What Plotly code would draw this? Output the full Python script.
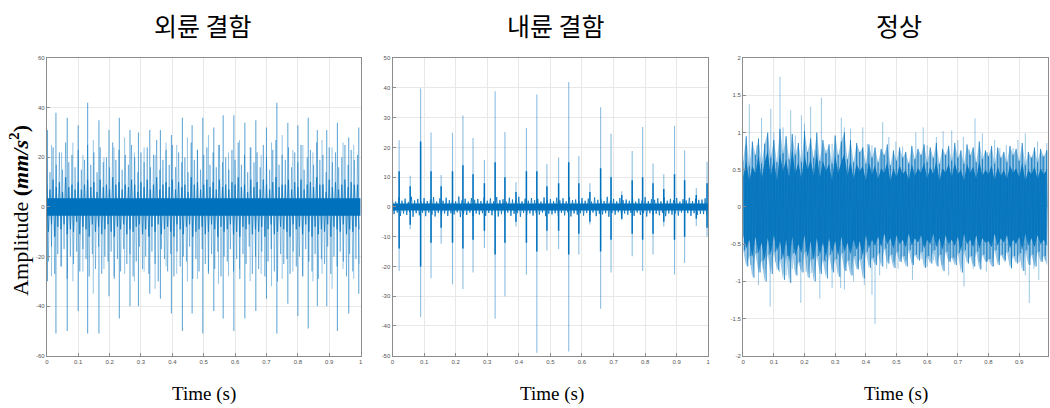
import plotly.graph_objects as go

BLUE = "#0072BD"

# ---------------- data ----------------
# sample grid for the envelope readings (0.01 s steps)
t_grid = [i / 100 for i in range(100)]

# Panel 1 : outer race fault (외륜 결함)
t1_imp = [0.002, 0.029, 0.065, 0.100, 0.130, 0.166, 0.198, 0.231, 0.265, 0.292, 0.328,
          0.362, 0.397, 0.432, 0.463, 0.497, 0.532, 0.562, 0.596, 0.631, 0.666, 0.700,
          0.733, 0.768, 0.800, 0.833, 0.862, 0.892, 0.926, 0.962, 0.994]
up1_imp = [31, 38, 36, 33, 42, 35, 31, 36, 31, 30, 31, 31, 29, 36, 33, 36, 32, 37, 37, 34,
           35, 32, 42, 34, 33, 36, 31, 31, 34, 28, 32]
dn1_imp = [-30, -51, -50, -42, -51, -51, -36, -45, -40, -40, -35, -37, -43, -50, -43, -51,
           -42, -45, -50, -45, -42, -37, -51, -39, -44, -49, -40, -40, -50, -43, -35]
t1_sec = [0.015, 0.047, 0.083, 0.115, 0.148, 0.182, 0.214, 0.248, 0.279, 0.310, 0.345,
          0.380, 0.414, 0.448, 0.480, 0.515, 0.547, 0.579, 0.614, 0.648, 0.683, 0.716,
          0.750, 0.784, 0.816, 0.848, 0.877, 0.909, 0.944, 0.978]
up1_sec = [25, 22, 26, 21, 27, 20, 24, 28, 22, 24, 21, 26, 25, 28, 23, 29, 25, 22, 27, 24,
           21, 26, 29, 23, 25, 22, 27, 24, 26, 25]
dn1_sec = [-28, -24, -30, -26, -35, -25, -28, -27, -30, -26, -33, -24, -27, -30, -29, -26,
           -31, -28, -25, -30, -27, -32, -29, -26, -28, -30, -27, -33, -25, -29]
mid1_hi = [20, 14, 24, 17, 22, 15, 26, 18, 21, 16, 23, 15, 19, 25, 17, 22, 14, 24, 18, 20,
           16, 26, 19, 23, 15, 21, 17, 25, 20, 14, 22, 18, 24, 16, 21, 27, 15, 19, 23, 17,
           25, 16, 22, 18, 20, 14, 26, 19, 23, 15, 21, 24, 17, 22, 16, 25, 18, 20, 15, 23,
           19, 26, 17, 21, 14, 24, 18, 22, 16, 25, 20, 15, 23, 27, 17, 21, 19, 24, 16, 22,
           18, 25, 15, 20, 23, 17, 26, 19, 21, 14, 24, 18, 22, 16, 20, 25, 17, 23, 19, 21]
mid1_lo = [-22, -16, -27, -19, -24, -17, -29, -20, -23, -18, -26, -17, -21, -28, -19, -25,
           -16, -27, -20, -22, -18, -29, -21, -26, -17, -23, -19, -28, -22, -16, -25, -20,
           -27, -18, -23, -30, -17, -21, -26, -19, -28, -18, -24, -20, -22, -16, -29, -21,
           -26, -17, -23, -27, -19, -25, -18, -28, -20, -22, -17, -26, -21, -29, -19, -23,
           -16, -27, -20, -25, -18, -28, -22, -17, -26, -30, -19, -23, -21, -27, -18, -24,
           -20, -28, -17, -22, -26, -19, -29, -21, -23, -16, -27, -20, -24, -18, -22, -28,
           -19, -26, -21, -23]
core1_hi = [9, 7, 11, 8, 10, 6, 12, 8, 9, 7, 10, 7, 9, 11, 8, 10, 6, 11, 8, 9,
            7, 12, 9, 10, 7, 9, 8, 11, 9, 6, 10, 8, 11, 7, 9, 12, 7, 9, 10, 8,
            11, 7, 10, 8, 9, 6, 12, 9, 10, 7, 9, 11, 8, 10, 7, 11, 8, 9, 7, 10,
            9, 12, 8, 9, 6, 11, 8, 10, 7, 11, 9, 7, 10, 12, 8, 9, 9, 11, 7, 10,
            8, 11, 7, 9, 10, 8, 12, 9, 9, 6, 11, 8, 10, 7, 9, 11, 8, 10, 9, 9]
core1_lo = [-10, -7, -12, -8, -9, -7, -11, -9, -10, -6, -11, -8, -9, -12, -7, -10, -8, -11,
            -9, -7, -10, -12, -8, -9, -7, -11, -9, -10, -8, -7, -11, -9, -12, -8, -10, -7,
            -11, -9, -8, -10, -12, -7, -9, -11, -8, -7, -12, -10, -9, -8, -11, -10, -7, -9,
            -12, -8, -10, -9, -7, -11, -10, -12, -8, -9, -7, -11, -9, -10, -8, -12, -9, -7,
            -11, -10, -8, -9, -10, -12, -7, -9, -8, -11, -7, -10, -12, -8, -11, -9, -10, -7,
            -12, -8, -9, -10, -7, -11, -9, -10, -8, -9]
core1_band = 3.5

# Panel 2 : inner race fault (내륜 결함)
t2_imp = [0.021, 0.056, 0.089, 0.122, 0.154, 0.190, 0.223, 0.255, 0.291, 0.325, 0.356,
          0.391, 0.424, 0.457, 0.489, 0.526, 0.558, 0.590, 0.625, 0.659, 0.692, 0.726,
          0.759, 0.792, 0.825, 0.859, 0.893, 0.925, 0.962, 0.996]
up2_imp = [22.4, 10.5, 39.8, 25, 10.7, 24.9, 30.7, 23.2, 15.8, 38.9, 25.2, 8.3, 26.5, 37.8,
           14.4, 16.6, 42, 17.1, 8, 33.5, 24.6, 5.3, 18.8, 26.9, 14.6, 11, 27.3, 19, 6.4, 15.2]
dn2_imp = [-21.5, -7.5, -37, -24, -12.4, -26, -27.6, -22, -13.8, -37.6, -30, -6.6, -22.8, -49,
           -14.6, -14.1, -48.6, -16, -5.9, -34.2, -22, -4.4, -16.6, -21.5, -16, -6.6, -22.7,
           -18.8, -6.4, -10]
up2_ring = [12, 7, 22, 12, 7, 12, 14, 11, 8, 15, 10, 5, 12, 12, 7, 8, 15, 8, 5, 13, 10, 4, 9,
            10, 8, 6, 11, 9, 4, 8]
dn2_ring = [-14, -6, -20, -12, -7, -12, -14, -11, -8, -16, -12, -5, -12, -15, -8, -8, -16, -9,
            -5, -15, -11, -4, -9, -11, -9, -5, -11, -10, -4, -7]
noise2_hi = [2.6, 1.8, 3.2, 2.1, 2.8, 1.7, 3.4, 2.2, 2.7, 1.9, 3.0, 2.0, 2.5, 3.3, 1.8, 2.9,
             2.1, 3.1, 2.3, 2.6, 1.9, 3.5, 2.2, 2.8, 1.8, 3.0, 2.4, 2.7, 2.0, 3.2, 2.1, 2.9,
             1.9, 3.3, 2.3, 2.6, 1.8, 3.1, 2.5, 2.2, 3.4, 1.9, 2.8, 2.1, 3.0, 2.3, 2.7, 1.8,
             3.2, 2.4, 2.6, 2.0, 3.1, 2.2, 2.9, 1.9, 3.3, 2.3, 2.5, 2.0, 3.0, 2.1, 2.8, 1.8,
             3.2, 2.4, 2.6, 2.0, 3.4, 2.2, 2.7, 1.9, 3.0, 2.3, 2.5, 2.1, 3.1, 1.8, 2.8, 2.2,
             3.3, 2.0, 2.6, 2.4, 2.9, 1.9, 3.2, 2.1, 2.7, 2.3, 3.0, 1.8, 2.6, 2.2, 3.1, 2.0,
             2.8, 2.4, 2.5, 2.9]
noise2_lo = [-2.4, -1.9, -3.0, -2.2, -2.7, -1.8, -3.3, -2.1, -2.8, -2.0, -3.1, -1.9, -2.6,
             -3.2, -2.0, -2.8, -2.2, -3.0, -2.1, -2.5, -1.8, -3.4, -2.3, -2.7, -1.9, -3.1,
             -2.2, -2.6, -2.1, -3.0, -2.0, -2.8, -1.8, -3.2, -2.4, -2.5, -1.9, -3.0, -2.3,
             -2.1, -3.3, -2.0, -2.7, -2.2, -2.9, -2.1, -2.6, -1.9, -3.1, -2.3, -2.5, -2.1,
             -3.0, -2.0, -2.8, -1.8, -3.2, -2.2, -2.6, -2.1, -2.9, -2.0, -2.7, -1.9, -3.1,
             -2.3, -2.5, -2.1, -3.3, -2.0, -2.6, -1.8, -2.9, -2.2, -2.6, -2.0, -3.0, -1.9,
             -2.7, -2.1, -3.2, -2.1, -2.5, -2.3, -2.8, -2.0, -3.1, -2.2, -2.6, -2.2, -2.9,
             -1.9, -2.5, -2.1, -3.0, -2.1, -2.7, -2.3, -2.4, -2.8]
core2_band = 1.2

# Panel 3 : normal (정상)
t3_hi = [0.008, 0.02, 0.045, 0.06, 0.09, 0.10, 0.12, 0.13, 0.155, 0.17, 0.19, 0.20, 0.22,
         0.235, 0.255, 0.27, 0.29, 0.32, 0.33, 0.35, 0.37, 0.39, 0.405, 0.42, 0.455, 0.475,
         0.498, 0.52, 0.54, 0.563, 0.587, 0.60, 0.63, 0.652, 0.68, 0.70, 0.718, 0.738, 0.756,
         0.78, 0.796, 0.82, 0.837, 0.858, 0.88, 0.896, 0.92, 0.943, 0.96, 0.976, 0.99]
v3_hi = [0.83, 1.38, 0.83, 1.2, 1.32, 1.0, 1.75, 1.07, 1.3, 0.96, 1.23, 1.12, 1.35, 0.77,
         1.47, 0.77, 0.85, 1.2, 1.07, 1.05, 0.81, 1.07, 0.85, 0.83, 1.14, 0.94, 0.88, 0.81,
         0.6, 1.0, 1.07, 0.83, 0.94, 1.02, 1.03, 0.9, 0.94, 0.77, 1.19, 0.99, 0.74, 0.9, 0.79,
         0.83, 0.79, 0.9, 0.99, 0.68, 0.88, 0.68, 0.86]
t3_lo = [0.004, 0.025, 0.05, 0.066, 0.088, 0.105, 0.118, 0.14, 0.16, 0.188, 0.205, 0.222,
         0.25, 0.268, 0.29, 0.318, 0.33, 0.36, 0.375, 0.395, 0.42, 0.43, 0.445, 0.468, 0.49,
         0.505, 0.53, 0.552, 0.58, 0.60, 0.62, 0.648, 0.67, 0.69, 0.72, 0.75, 0.77, 0.793,
         0.815, 0.835, 0.853, 0.875, 0.90, 0.92, 0.933, 0.948, 0.964, 0.985]
v3_lo = [-0.6, -0.78, -1.05, -0.83, -1.34, -0.74, -0.87, -0.92, -0.83, -1.29, -0.87, -0.89,
         -1.23, -0.74, -1.09, -1.09, -1.11, -1.0, -0.83, -1.05, -1.18, -1.57, -0.92, -0.83,
         -0.74, -0.83, -0.72, -0.98, -0.7, -0.8, -0.72, -0.78, -0.92, -0.7, -1.07, -0.83,
         -0.74, -0.87, -0.8, -0.72, -0.74, -0.83, -0.74, -0.92, -1.29, -0.83, -0.98, -0.72]
mid3_hi = [0.62, 0.95, 0.55, 0.88, 0.70, 0.92, 0.58, 0.85, 1.00, 0.66, 0.90, 0.60, 1.05, 0.72,
           0.95, 0.64, 0.98, 0.70, 0.86, 0.60, 1.02, 0.74, 0.92, 0.66, 1.00, 0.62, 0.90, 0.72,
           0.84, 0.58, 0.96, 0.70, 0.88, 1.00, 0.64, 0.90, 0.60, 0.86, 0.74, 0.80, 0.58, 0.84,
           0.66, 0.80, 0.60, 0.78, 0.70, 0.84, 0.56, 0.76, 0.62, 0.80, 0.66, 0.74, 0.58, 0.82,
           0.64, 0.78, 0.70, 0.84, 0.60, 0.80, 0.66, 0.86, 0.58, 0.78, 0.70, 0.82, 0.62, 0.86,
           0.66, 0.76, 0.58, 0.84, 0.70, 0.80, 0.60, 0.88, 0.64, 0.76, 0.68, 0.82, 0.58, 0.80,
           0.66, 0.74, 0.60, 0.82, 0.70, 0.78, 0.62, 0.86, 0.56, 0.74, 0.66, 0.80, 0.60, 0.78,
           0.68, 0.76]
mid3_lo = [-0.58, -0.80, -0.66, -0.95, -0.62, -0.88, -0.72, -1.00, -0.64, -0.90, -0.60,
           -0.85, -0.70, -0.98, -0.66, -1.02, -0.62, -0.92, -0.74, -0.88, -0.60, -0.95,
           -0.70, -1.00, -0.66, -0.90, -0.72, -0.96, -0.64, -0.88, -0.70, -0.94, -0.62,
           -0.86, -0.72, -0.92, -0.66, -0.84, -0.70, -0.96, -0.60, -0.82, -0.68, -0.78,
           -0.62, -0.80, -0.56, -0.76, -0.64, -0.82, -0.60, -0.74, -0.66, -0.80, -0.58,
           -0.78, -0.64, -0.72, -0.60, -0.82, -0.66, -0.76, -0.58, -0.80, -0.64, -0.86,
           -0.60, -0.74, -0.68, -0.78, -0.62, -0.88, -0.58, -0.76, -0.66, -0.80, -0.60,
           -0.84, -0.64, -0.74, -0.70, -0.80, -0.58, -0.78, -0.64, -0.72, -0.60, -0.82,
           -0.66, -0.76, -0.62, -0.86, -0.58, -0.78, -0.64, -0.80, -0.60, -0.74, -0.66,
           -0.78]
core3_hi = [0.40, 0.62, 0.35, 0.55, 0.45, 0.70, 0.38, 0.60, 0.75, 0.42, 0.66, 0.36, 0.72,
            0.48, 0.64, 0.40, 0.78, 0.45, 0.60, 0.38, 0.70, 0.50, 0.64, 0.42, 0.74, 0.40,
            0.62, 0.48, 0.58, 0.36, 0.70, 0.46, 0.60, 0.72, 0.42, 0.62, 0.38, 0.58, 0.48,
            0.55, 0.36, 0.60, 0.44, 0.56, 0.38, 0.52, 0.46, 0.60, 0.35, 0.52, 0.40, 0.56,
            0.44, 0.50, 0.36, 0.58, 0.42, 0.52, 0.46, 0.60, 0.38, 0.54, 0.44, 0.62, 0.36,
            0.52, 0.46, 0.58, 0.40, 0.60, 0.44, 0.50, 0.36, 0.58, 0.46, 0.54, 0.38, 0.62,
            0.42, 0.50, 0.44, 0.56, 0.36, 0.54, 0.42, 0.50, 0.38, 0.56, 0.46, 0.52, 0.40,
            0.60, 0.35, 0.50, 0.44, 0.54, 0.38, 0.52, 0.44, 0.50]
core3_lo = [-0.38, -0.56, -0.44, -0.68, -0.40, -0.62, -0.48, -0.72, -0.42, -0.64, -0.38,
            -0.60, -0.46, -0.70, -0.44, -0.74, -0.40, -0.66, -0.50, -0.62, -0.38, -0.68,
            -0.46, -0.72, -0.42, -0.64, -0.48, -0.68, -0.42, -0.62, -0.46, -0.66, -0.40,
            -0.60, -0.48, -0.64, -0.44, -0.58, -0.46, -0.66, -0.38, -0.56, -0.44, -0.52,
            -0.40, -0.54, -0.36, -0.50, -0.42, -0.56, -0.38, -0.50, -0.44, -0.54, -0.36,
            -0.52, -0.42, -0.48, -0.38, -0.56, -0.44, -0.50, -0.36, -0.54, -0.42, -0.58,
            -0.38, -0.50, -0.44, -0.52, -0.40, -0.60, -0.36, -0.50, -0.44, -0.54, -0.38,
            -0.56, -0.42, -0.48, -0.46, -0.54, -0.36, -0.52, -0.42, -0.48, -0.38, -0.56,
            -0.44, -0.50, -0.40, -0.58, -0.36, -0.52, -0.42, -0.54, -0.38, -0.50, -0.44,
            -0.52]

titles = ["외륜 결함", "내륜 결함", "정상"]
y_ticks = [[-60, -40, -20, 0, 20, 40, 60],
           [-50, -40, -30, -20, -10, 0, 10, 20, 30, 40, 50],
           [-2, -1.5, -1, -0.5, 0, 0.5, 1, 1.5, 2]]
x_ticks = [[0, 0.1, 0.2, 0.3, 0.4, 0.5, 0.6, 0.7, 0.8, 0.9, 1],
           [0, 0.1, 0.2, 0.3, 0.4, 0.5, 0.6, 0.7, 0.8, 0.9, 1],
           [0, 0.1, 0.2, 0.3, 0.4, 0.5, 0.6, 0.7, 0.8, 0.9]]


# ---------------- helpers ----------------
def rgba(a):
    return "rgba(0,114,189,%s)" % a


def segs(ts, lo, hi):
    xs, ys = [], []
    for t, a, b in zip(ts, lo, hi):
        xs += [t, t, None]
        ys += [a, b, None]
    return xs, ys


def zigzag(ts, hi, lo, half_step):
    xs, ys = [], []
    for t, a, b in zip(ts, hi, lo):
        xs += [t, t + half_step]
        ys += [a, b]
    return xs, ys


def lines(xs, ys, color, w, xa, ya):
    return go.Scatter(x=xs, y=ys, mode="lines", line=dict(color=color, width=w),
                      connectgaps=False, hoverinfo="skip", showlegend=False,
                      xaxis=xa, yaxis=ya)


def jag_band(ts, hi, lo, color, xa, ya):
    xs = list(ts) + list(ts)[::-1]
    ys = list(hi) + list(lo)[::-1]
    return go.Scatter(x=xs, y=ys, fill="toself", fillcolor=color, mode="lines",
                      line=dict(width=0), hoverinfo="skip", showlegend=False,
                      xaxis=xa, yaxis=ya)


def flat_band(x0, x1, half, color, xa, ya):
    return go.Scatter(x=[x0, x1, x1, x0], y=[half, half, -half, -half], fill="toself",
                      fillcolor=color, mode="lines", line=dict(width=0), hoverinfo="skip",
                      showlegend=False, xaxis=xa, yaxis=ya)


fig = go.Figure()

# Panel 1
xs, ys = zigzag(t_grid, mid1_hi, mid1_lo, 0.005)
fig.add_trace(lines(xs, ys, rgba(0.38), 1, "x", "y"))
xs, ys = segs(t1_sec, dn1_sec, up1_sec)
fig.add_trace(lines(xs, ys, rgba(0.42), 1, "x", "y"))
xs, ys = segs(t1_imp, dn1_imp, up1_imp)
fig.add_trace(lines(xs, ys, rgba(0.6), 1.1, "x", "y"))
xs, ys = zigzag(t_grid, core1_hi, core1_lo, 0.005)
fig.add_trace(lines(xs, ys, rgba(0.7), 1, "x", "y"))
fig.add_trace(flat_band(0, 1, core1_band, BLUE, "x", "y"))

# Panel 2
xs, ys = segs(t2_imp, dn2_imp, up2_imp)
fig.add_trace(lines(xs, ys, rgba(0.45), 1.1, "x2", "y2"))
xs, ys = zigzag(t_grid, noise2_hi, noise2_lo, 0.005)
fig.add_trace(lines(xs, ys, rgba(0.8), 1, "x2", "y2"))
xs, ys = segs(t2_imp, dn2_ring, up2_ring)
fig.add_trace(lines(xs, ys, BLUE, 1.5, "x2", "y2"))
fig.add_trace(flat_band(0, 1, core2_band, BLUE, "x2", "y2"))

# Panel 3
xs, ys = segs(t3_hi, [0] * len(t3_hi), v3_hi)
fig.add_trace(lines(xs, ys, rgba(0.4), 1, "x3", "y3"))
xs, ys = segs(t3_lo, [0] * len(t3_lo), v3_lo)
fig.add_trace(lines(xs, ys, rgba(0.4), 1, "x3", "y3"))
fig.add_trace(jag_band(t_grid, mid3_hi, mid3_lo, rgba(0.4), "x3", "y3"))
xs, ys = zigzag(t_grid, mid3_hi, mid3_lo, 0.005)
fig.add_trace(lines(xs, ys, rgba(0.5), 1, "x3", "y3"))
fig.add_trace(jag_band(t_grid, core3_hi, core3_lo, rgba(0.9), "x3", "y3"))

# ---------------- layout ----------------
W, H = 1050, 408
doms_px = [(45, 360), (392, 709), (744, 1050)]
top_px, bot_px = 56, 358
ydom = [(H - bot_px) / H, (H - top_px) / H]
x_ranges = [[0, 1], [0, 1], [0, 0.994]]
y_ranges = [[-60, 60], [-50, 50], [-2, 2]]

axis_common = dict(showgrid=True, gridcolor="#e8e8e8", gridwidth=1, zeroline=False,
                   showline=True, linecolor="#8c8c8c", linewidth=1, mirror=True,
                   ticks="inside", ticklen=3, tickcolor="#8c8c8c",
                   tickfont=dict(size=6, color="#555555", family="Liberation Sans"))

layout = dict(width=W, height=H, margin=dict(l=0, r=0, t=0, b=0),
              paper_bgcolor="white", plot_bgcolor="white", showlegend=False)
for i in range(3):
    sfx = "" if i == 0 else str(i + 1)
    layout["xaxis" + sfx] = dict(axis_common, domain=[doms_px[i][0] / W, doms_px[i][1] / W],
                                 range=x_ranges[i], tickvals=x_ticks[i],
                                 ticktext=[("%g" % v) for v in x_ticks[i]],
                                 anchor="y" + sfx)
    layout["yaxis" + sfx] = dict(axis_common, domain=ydom, range=y_ranges[i],
                                 tickvals=y_ticks[i],
                                 ticktext=[("%g" % v) for v in y_ticks[i]],
                                 anchor="x" + sfx)
fig.update_layout(**layout)

title_cx = [202, 556, 900]
label_cx = [203, 552, 897]
ann = []
for i in range(3):
    ann.append(dict(text=titles[i], x=title_cx[i] / W, y=1 - 22 / H, xref="paper", yref="paper",
                    showarrow=False, xanchor="center", yanchor="middle",
                    font=dict(size=25, color="black", family="Noto Sans CJK KR")))
    ann.append(dict(text="Time (s)", x=label_cx[i] / W, y=1 - 397 / H, xref="paper",
                    yref="paper", showarrow=False, xanchor="center", yanchor="middle",
                    font=dict(size=19, color="black", family="Liberation Serif")))
ann.append(dict(text="Amplitude <b>(<i>mm/s</i><sup>2</sup>)</b>", x=17 / W, y=1 - 210 / H,
                xref="paper", yref="paper", showarrow=False, textangle=-90,
                xanchor="center", yanchor="middle",
                font=dict(size=22, color="black", family="Liberation Serif")))
fig.update_layout(annotations=ann)

fig.write_html("out.html")
